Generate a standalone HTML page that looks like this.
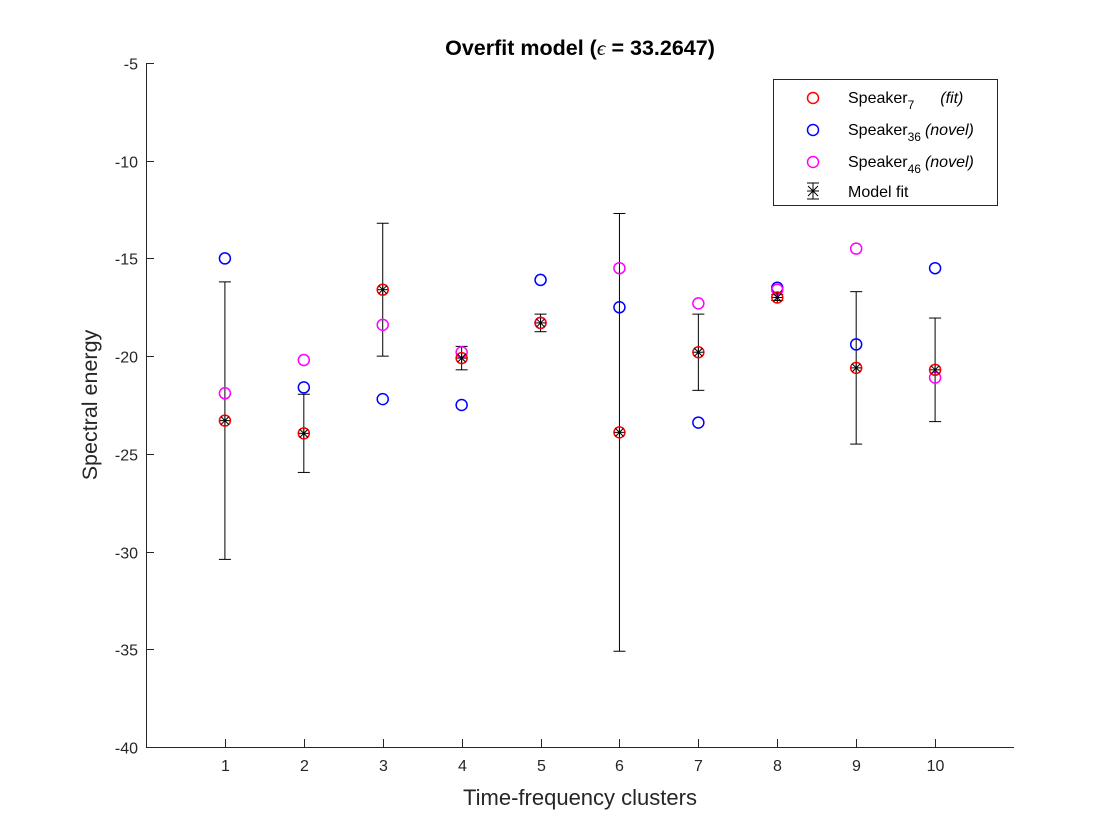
<!DOCTYPE html>
<html><head><meta charset="utf-8"><style>
html,body{margin:0;padding:0;background:#fff;width:1120px;height:840px;overflow:hidden}
svg{display:block;font-family:"Liberation Sans",Arial,sans-serif}
</style></head><body>
<svg id="chart" width="1120" height="840" viewBox="0 0 1120 840">
<rect x="0" y="0" width="1120" height="840" fill="#fff"/>
<g id="axes"></g>
<g id="marks"></g>
<text x="580" y="55" text-anchor="middle" font-size="21.5" font-weight="bold">Overfit model (<tspan font-style="italic" font-weight="normal" font-family="Liberation Serif,serif">ϵ</tspan> = 33.2647)</text>
<text x="580" y="805" text-anchor="middle" font-size="22" fill="#262626">Time-frequency clusters</text>
<text transform="translate(97,405) rotate(-90)" text-anchor="middle" font-size="21.5" fill="#262626">Spectral energy</text>
<g>
<rect x="773.5" y="79.5" width="224" height="126" fill="#fff" stroke="#262626" stroke-width="1"/>
<g>
<circle cx="813" cy="98" r="5.5" fill="none" stroke="#f00" stroke-width="1.5"/>
<text x="848" y="103" font-size="16">Speaker<tspan font-size="12" dy="6">7</tspan><tspan dy="-6" dx="26" font-style="italic">(fit)</tspan></text></g>
<g>
<circle cx="813" cy="130" r="5.5" fill="none" stroke="#00f" stroke-width="1.5"/>
<text x="848" y="135" font-size="16">Speaker<tspan font-size="12" dy="6">36</tspan><tspan dy="-6" dx="4" font-style="italic">(novel)</tspan></text></g>
<g>
<circle cx="813" cy="162" r="5.5" fill="none" stroke="#f0f" stroke-width="1.5"/>
<text x="848" y="167" font-size="16">Speaker<tspan font-size="12" dy="6">46</tspan><tspan dy="-6" dx="4" font-style="italic">(novel)</tspan></text></g>
<g stroke="#000" stroke-width="1">
<line x1="813" y1="183" x2="813" y2="199"/><line x1="807" y1="183" x2="819" y2="183"/><line x1="807" y1="199" x2="819" y2="199"/>
<line x1="807" y1="191" x2="819" y2="191"/><line x1="808" y1="186" x2="818" y2="196"/><line x1="808" y1="196" x2="818" y2="186"/>
<text x="848" y="197" font-size="16" stroke="none" fill="#000">Model fit</text></g>
</g>
</svg>
<script>
const categories=[1,2,3,4,5,6,7,8,9,10];
const speaker7=[-23.3,-23.95,-16.6,-20.1,-18.3,-23.9,-19.8,-17.0,-20.6,-20.7];
const speaker36=[-15.0,-21.6,-22.2,-22.5,-16.1,-17.5,-23.4,-16.5,-19.4,-15.5];
const speaker46=[-21.9,-20.2,-18.4,-19.8,-18.3,-15.5,-17.3,-16.6,-14.5,-21.1];
const fitMean=[-23.3,-23.95,-16.6,-20.1,-18.3,-23.9,-19.8,-17.0,-20.6,-20.7];
const fitErr=[7.1,2.0,3.4,0.6,0.45,11.2,1.95,0.15,3.9,2.65];
const yTicks=[-5,-10,-15,-20,-25,-30,-35,-40];
const xTicks=[1,2,3,4,5,6,7,8,9,10];
const NS="http://www.w3.org/2000/svg";
const X0=146,X1=1014,Y0=747,Y1=63;
function xs(v){return X0+(v-0)/(11-0)*(X1-X0);}
function ys(v){return Y0+(v-(-40))/(-5-(-40))*(Y1-Y0);}
function mk(tag,attrs,parent){const e=document.createElementNS(NS,tag);for(const k in attrs)e.setAttribute(k,attrs[k]);parent.appendChild(e);return e;}
const axes=document.getElementById('axes'),marks=document.getElementById('marks');
let l=mk('line',{x1:X0,y1:Y0+.5,x2:X1,y2:Y0+.5,stroke:'#262626'},axes);


l=mk('line',{x1:X0+.5,y1:Y0,x2:X0+.5,y2:Y1,stroke:'#262626'},axes);


xTicks.forEach(t=>{const x=Math.round(xs(t))+.5;
 let tk=mk('line',{x1:x,y1:Y0,x2:x,y2:Y0-8,stroke:'#262626'},axes);
 
 
 let tx=mk('text',{x:x,y:Y0+24,'text-anchor':'middle','font-size':16,fill:'#262626'},axes);tx.textContent=t;
 
 });
yTicks.forEach(t=>{const y=Math.round(ys(t))+.5;
 let tk=mk('line',{x1:X0,y1:y,x2:X0+8,y2:y,stroke:'#262626'},axes);
 
 
 let tx=mk('text',{x:X0-8,y:y+6,'text-anchor':'end','font-size':16,fill:'#262626'},axes);tx.textContent=t;
 
 });
categories.forEach((c,i)=>{const x=xs(c);
 const g=mk('g',{stroke:'#000','stroke-width':1},marks);
 
 
 const yt=ys(fitMean[i]+fitErr[i]),yb=ys(fitMean[i]-fitErr[i]);
 mk('line',{x1:x,y1:yt,x2:x,y2:yb},g);
 mk('line',{x1:x-6,y1:yt,x2:x+6,y2:yt},g);
 mk('line',{x1:x-6,y1:yb,x2:x+6,y2:yb},g);
});
function pts(arr,color,name){categories.forEach((c,i)=>{
 const e=mk('circle',{cx:xs(c),cy:ys(arr[i]),r:5.5,fill:'none',stroke:color,'stroke-width':1.5},marks);
 
 });}
pts(speaker36,'#00f','speaker36');
pts(speaker46,'#f0f','speaker46');
pts(speaker7,'#f00','speaker7');
categories.forEach((c,i)=>{const x=xs(c),y=ys(fitMean[i]);
 const g=mk('g',{stroke:'#000','stroke-width':1},marks);
 
 
 mk('line',{x1:x-5,y1:y,x2:x+5,y2:y},g);mk('line',{x1:x,y1:y-5,x2:x,y2:y+5},g);
 mk('line',{x1:x-4,y1:y-4,x2:x+4,y2:y+4},g);mk('line',{x1:x-4,y1:y+4,x2:x+4,y2:y-4},g);
});
</script>
</body></html>
